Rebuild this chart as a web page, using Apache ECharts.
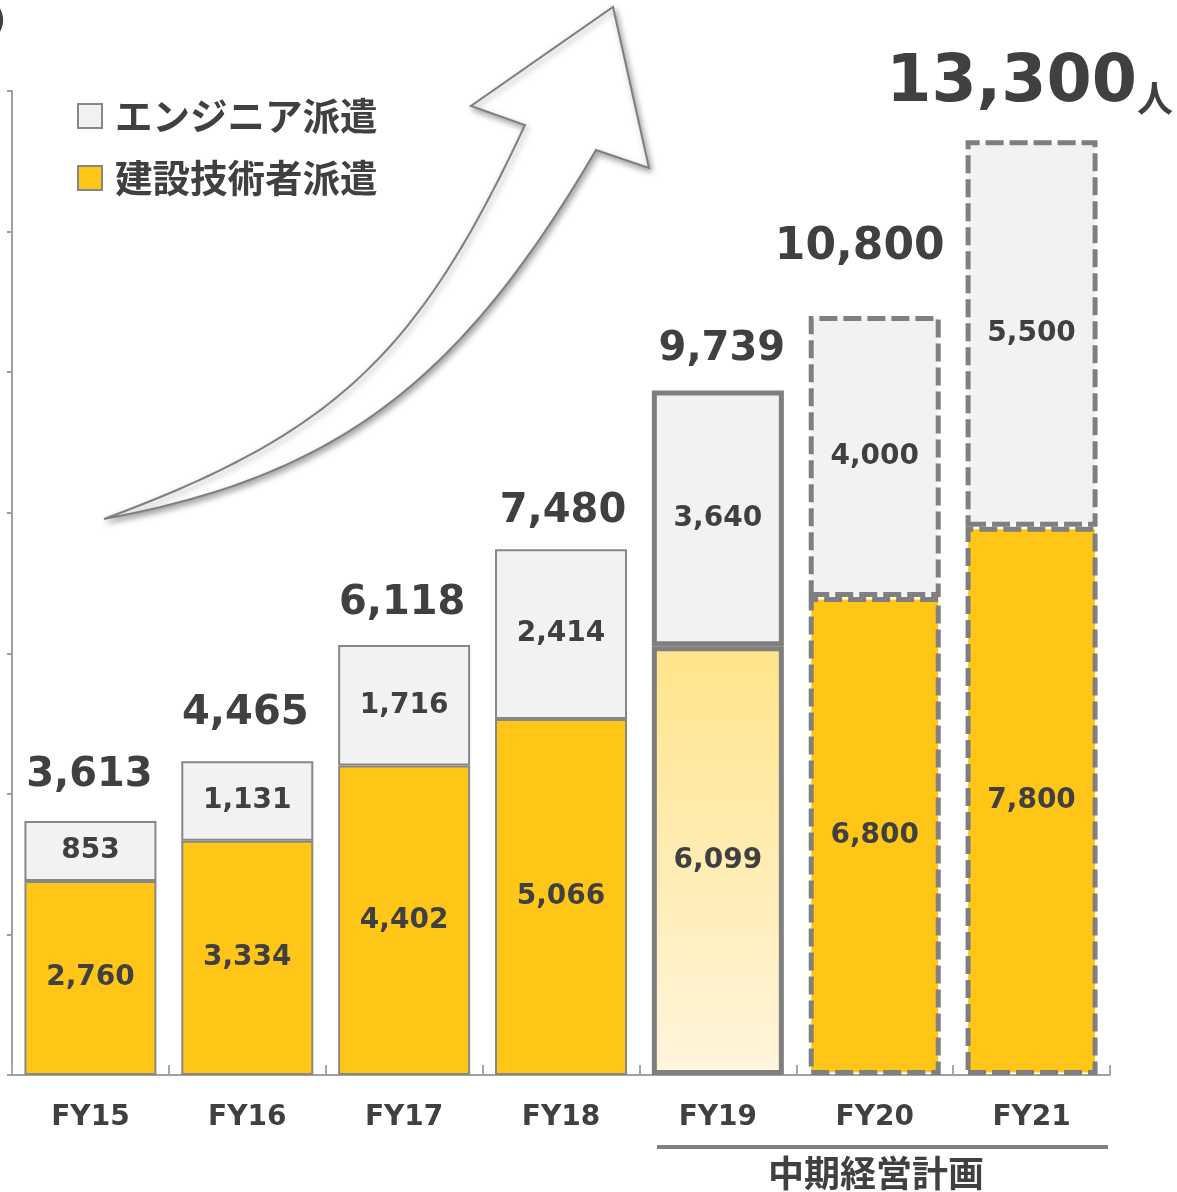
<!DOCTYPE html>
<html>
<head>
<meta charset="utf-8">
<script src="https://cdn.jsdelivr.net/npm/echarts@6/dist/echarts.min.js"></script>
<style>
html,body{margin:0;padding:0;background:#fff;}
#c{width:1177px;height:1192px;}
</style>
</head>
<body>
<div id="c"></div>
<script>
// ---- data ----
var categories = ['FY15', 'FY16', 'FY17', 'FY18', 'FY19', 'FY20', 'FY21'];
var constructionValues = [2760, 3334, 4402, 5066, 6099, 6800, 7800];   // 建設技術者派遣
var engineerValues = [853, 1131, 1716, 2414, 3640, 4000, 5500];        // エンジニア派遣
var totalValues = [3613, 4465, 6118, 7480, 9739, 10800, 13300];
var seriesNames = ['建設技術者派遣', 'エンジニア派遣'];
var yTicks = { min: 0, max: 14000, interval: 2000 };

// ---- styling ----
var YELLOW = '#FFC618', GRAY = '#F2F2F2', BORDER = '#878787', BORDER_THICK = '#7F7F7F', TEXT = '#404040';
var NUM_FONT = 'DejaVu Sans', CJK_FONT = 'Noto Sans CJK JP';
// per-category style kind: 0 actual, 1 latest actual (thick), 2 plan (dashed)
var barKinds = [0, 0, 0, 0, 1, 2, 2];
var totalLabelOffsets = [[-1, -45], [-2, -48], [-2, -41], [2, -38], [4, -41], [-15, -68], [-2, -59]];
var totalLabelSizes = [40, 40, 40, 40, 40, 44, 65];

function segStyle(kind, fill) {
  if (kind === 0) return { color: fill, borderColor: BORDER, borderWidth: 2 };
  if (kind === 1) return { color: fill, borderColor: BORDER_THICK, borderWidth: 5 };
  return { color: fill, borderColor: BORDER_THICK, borderWidth: 5, borderType: [18, 6] };
}
var fy19Gradient = { type: 'linear', x: 0, y: 0, x2: 0, y2: 1,
  colorStops: [{ offset: 0, color: '#FFE48A' }, { offset: 1, color: '#FFF5DC' }] };

var constructionData = constructionValues.map(function (v, i) {
  var fill = barKinds[i] === 1 ? fy19Gradient : YELLOW;
  return { value: v, itemStyle: segStyle(barKinds[i], fill) };
});
var engineerData = engineerValues.map(function (v, i) {
  return { value: v, itemStyle: segStyle(barKinds[i], GRAY) };
});
var totalData = totalValues.map(function (v, i) {
  var big = i === totalValues.length - 1;
  return {
    value: [i, v],
    label: {
      offset: totalLabelOffsets[i],
      formatter: big ? '{n|' + v.toLocaleString('en-US') + '}{u|人}' : '{s' + i + '|' + v.toLocaleString('en-US') + '}'
    }
  };
});
var richTotals = {};
totalLabelSizes.forEach(function (s, i) {
  richTotals['s' + i] = { fontFamily: NUM_FONT, fontWeight: 'bold', fontSize: s, color: TEXT };
});
richTotals.n = { fontFamily: NUM_FONT, fontWeight: 'bold', fontSize: 65, color: TEXT, verticalAlign: 'bottom', lineHeight: 70 };
richTotals.u = { fontFamily: CJK_FONT, fontWeight: 'bold', fontSize: 36, color: TEXT, verticalAlign: 'bottom', lineHeight: 70, padding: [0, 0, 0, 0] };

var innerLabel = {
  show: true, position: 'inside', color: TEXT,
  fontFamily: NUM_FONT, fontWeight: 'bold', fontSize: 28,
  formatter: function (p) { return p.value.toLocaleString('en-US'); }
};

// decorative arrow outline (cubic curves sampled to a polygon)
function cubic(p0, p1, p2, p3, n) {
  var pts = [];
  for (var k = 0; k <= n; k++) {
    var t = k / n, u = 1 - t;
    pts.push([
      u*u*u*p0[0] + 3*u*u*t*p1[0] + 3*u*t*t*p2[0] + t*t*t*p3[0],
      u*u*u*p0[1] + 3*u*u*t*p1[1] + 3*u*t*t*p2[1] + t*t*t*p3[1]
    ]);
  }
  return pts;
}
var arrowPts = cubic([104, 519], [334, 434], [418, 355], [525, 125], 60)
  .concat([[471, 106], [613, 7], [649, 168]])
  .concat(cubic([596, 150], [459, 384], [336, 476], [104, 519], 60));

var chart = echarts.init(document.getElementById('c'), null, { renderer: 'canvas' });
chart.setOption({
  animation: false,
  backgroundColor: '#fff',
  grid: { left: 12, right: 67, top: 91, bottom: 117, containLabel: false },
  legend: {
    orient: 'vertical', left: 77, top: 96, padding: 0,
    itemWidth: 24, itemHeight: 24, itemGap: 22, icon: 'rect',
    selectedMode: false,
    textStyle: { fontFamily: CJK_FONT, fontWeight: 'bold', fontSize: 37.5, color: TEXT, lineHeight: 40, padding: [0, 0, 0, 8] },
    data: [
      { name: seriesNames[1], itemStyle: { color: GRAY, borderColor: BORDER, borderWidth: 2 } },
      { name: seriesNames[0], itemStyle: { color: YELLOW, borderColor: BORDER, borderWidth: 2 } }
    ]
  },
  xAxis: {
    type: 'category', data: categories,
    axisLine: { lineStyle: { color: '#A0A0A0', width: 2 } },
    axisTick: { show: true, inside: true, length: 10, lineStyle: { color: '#A6A6A6', width: 2 } },
    axisLabel: { fontFamily: NUM_FONT, fontWeight: 'bold', fontSize: 28, color: TEXT, margin: 29 }
  },
  yAxis: {
    type: 'value', min: yTicks.min, max: yTicks.max, interval: yTicks.interval,
    axisLine: { show: true, lineStyle: { color: '#A0A0A0', width: 2 } },
    axisTick: { show: true, length: 5, lineStyle: { color: '#A0A0A0', width: 2 } },
    axisLabel: { show: false },
    splitLine: { show: false }
  },
  graphic: [
    {
      type: 'polygon', z: 1,
      shape: { points: arrowPts },
      style: { fill: '#ffffff', stroke: '#7F7F7F', lineWidth: 2,
        shadowBlur: 6, shadowColor: 'rgba(0,0,0,0.35)', shadowOffsetX: 2, shadowOffsetY: 3 }
    },
    { type: 'text', x: 6, y: 22, style: { text: '(人)', fontFamily: NUM_FONT, fontWeight: 'bold', fontSize: 34, fill: TEXT, align: 'right', verticalAlign: 'middle' } },
    { type: 'rect', shape: { x: 657, y: 1145, width: 451, height: 4 }, style: { fill: '#808080' } },
    { type: 'text', x: 876, y: 1173, style: { text: '中期経営計画', fontFamily: CJK_FONT, fontWeight: 'bold', fontSize: 36, fill: TEXT, align: 'center', verticalAlign: 'middle' } }
  ],
  series: [
    { name: seriesNames[0], type: 'bar', stack: 'total', barWidth: 132, data: constructionData, label: innerLabel, z: 3 },
    { name: seriesNames[1], type: 'bar', stack: 'total', barWidth: 132, data: engineerData, label: innerLabel, z: 3 },
    {
      name: 'total', type: 'scatter', data: totalData, symbolSize: 1, silent: true, z: 5,
      itemStyle: { color: 'rgba(0,0,0,0)', opacity: 1 },
      label: { show: true, position: 'inside', color: TEXT, opacity: 1, rich: richTotals }
    }
  ]
});
</script>
</body>
</html>
